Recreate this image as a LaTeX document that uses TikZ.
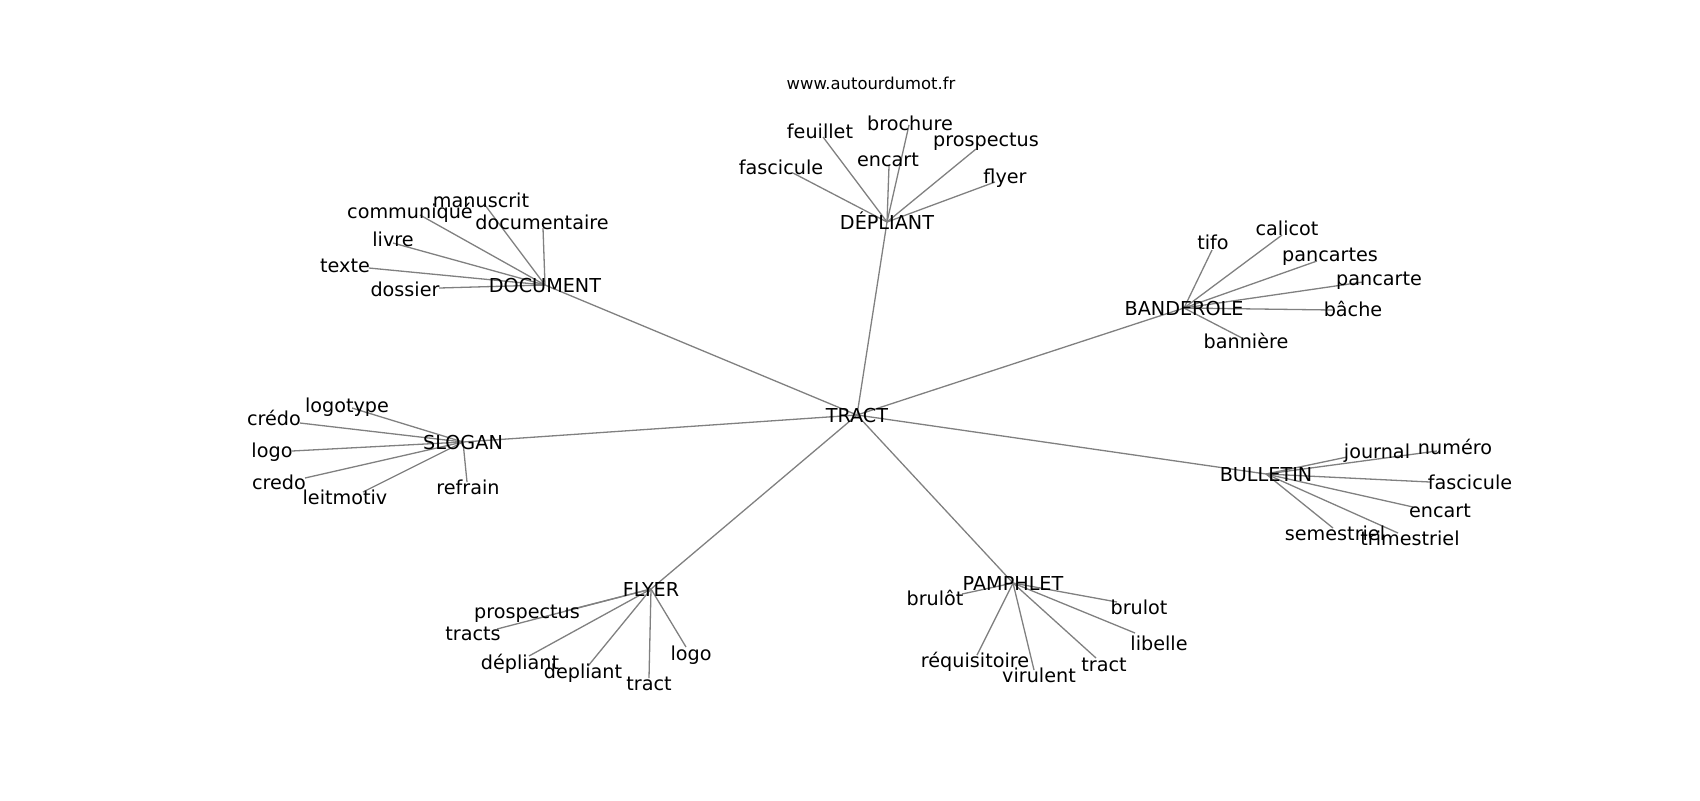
\documentclass[tikz,border=0pt]{standalone}
\usepackage{fontspec}
\setmainfont{DejaVu Sans}
\usetikzlibrary{backgrounds}
\tikzset{
  word/.style={inner sep=0pt,text height=0.73em,text depth=0pt,font=\fontsize{9.6}{11}\selectfont},
  site/.style={inner sep=0pt,text height=0.73em,text depth=0pt,font=\fontsize{8.2}{10}\selectfont},
  edge/.style={draw=gray,line width=0.65pt}
}
\begin{document}
\begin{tikzpicture}[x=0.5pt,y=-0.5pt]
  \useasboundingbox (0,0) rectangle (1700,800);
  \node[site] (site) at (871,82) {www.autourdumot.fr};

  % centre
  \node[word] (tract) at (857,415) {TRACT};

  % DÉPLIANT
  \node[word] (depliant) at (887,222) {DÉPLIANT};
  \coordinate (d-feuillet) at (823,137);   \node[word] (t-d-feuillet) at (820,131) {feuillet};
  \coordinate (d-brochure) at (909,125);   \node[word] (t-d-brochure) at (910,123) {brochure};
  \coordinate (d-encart) at (889,166);     \node[word] (t-d-encart) at (888,159) {encart};
  \coordinate (d-prospectus) at (976,149); \node[word] (t-d-prospectus) at (986,139) {prospectus};
  \coordinate (d-fascicule) at (793,173);  \node[word] (t-d-fascicule) at (781,167) {fascicule};
  \coordinate (d-flyer) at (995,182);      \node[word] (t-d-flyer) at (1005,176) {flyer};

  % DOCUMENT
  \node[word] (document) at (545,285) {DOCUMENT};
  \coordinate (o-manuscrit) at (485,205);    \node[word] (t-o-manuscrit) at (481,200) {manuscrit};
  \coordinate (o-communique) at (420,215);   \node[word] (t-o-communique) at (410,211) {communiqué};
  \coordinate (o-documentaire) at (543,228); \node[word] (t-o-documentaire) at (542,222) {documentaire};
  \coordinate (o-livre) at (393,243);        \node[word] (t-o-livre) at (393,239) {livre};
  \coordinate (o-texte) at (369,268);        \node[word] (t-o-texte) at (345,265) {texte};
  \coordinate (o-dossier) at (439,288);      \node[word] (t-o-dossier) at (405,289) {dossier};

  % BANDEROLE
  \node[word] (banderole) at (1184,308) {BANDEROLE};
  \coordinate (b-tifo) at (1212,250);      \node[word] (t-b-tifo) at (1213,242) {tifo};
  \coordinate (b-calicot) at (1282,235);   \node[word] (t-b-calicot) at (1287,228) {calicot};
  \coordinate (b-pancartes) at (1317,261); \node[word] (t-b-pancartes) at (1330,254) {pancartes};
  \coordinate (b-pancarte) at (1363,282);  \node[word] (t-b-pancarte) at (1379,278) {pancarte};
  \coordinate (b-bache) at (1333,310);     \node[word] (t-b-bache) at (1353,309) {bâche};
  \coordinate (b-banniere) at (1242,338);  \node[word] (t-b-banniere) at (1246,341) {bannière};

  % SLOGAN
  \node[word] (slogan) at (463,442) {SLOGAN};
  \coordinate (s-logotype) at (352,408);  \node[word] (t-s-logotype) at (347,405) {logotype};
  \coordinate (s-credo1) at (300,423);    \node[word] (t-s-credo1) at (274,418) {crédo};
  \coordinate (s-logo) at (292,451);      \node[word] (t-s-logo) at (272,450) {logo};
  \coordinate (s-credo2) at (305,478);    \node[word] (t-s-credo2) at (279,482) {credo};
  \coordinate (s-leitmotiv) at (363,492); \node[word] (t-s-leitmotiv) at (345,497) {leitmotiv};
  \coordinate (s-refrain) at (467,482);   \node[word] (t-s-refrain) at (468,487) {refrain};

  % BULLETIN
  \node[word] (bulletin) at (1266,474) {BULLETIN};
  \coordinate (u-journal) at (1347,457);     \node[word] (t-u-journal) at (1377,451) {journal};
  \coordinate (u-numero) at (1437,451);      \node[word] (t-u-numero) at (1455,447) {numéro};
  \coordinate (u-fascicule) at (1430,482);   \node[word] (t-u-fascicule) at (1470,482) {fascicule};
  \coordinate (u-encart) at (1413,507);      \node[word] (t-u-encart) at (1440,510) {encart};
  \coordinate (u-semestriel) at (1333,528);  \node[word] (t-u-semestriel) at (1335,533) {semestriel};
  \coordinate (u-trimestriel) at (1398,533); \node[word] (t-u-trimestriel) at (1410,538) {trimestriel};

  % FLYER
  \node[word] (flyer) at (651,589) {FLYER};
  \coordinate (f-prospectus) at (565,611); \node[word] (t-f-prospectus) at (527,611) {prospectus};
  \coordinate (f-tracts) at (497,629);     \node[word] (t-f-tracts) at (473,633) {tracts};
  \coordinate (f-depliant1) at (529,656);  \node[word] (t-f-depliant1) at (520,662) {dépliant};
  \coordinate (f-depliant2) at (588,666);  \node[word] (t-f-depliant2) at (583,671) {depliant};
  \coordinate (f-tract) at (649,678);      \node[word] (t-f-tract) at (649,683) {tract};
  \coordinate (f-logo) at (686,647);       \node[word] (t-f-logo) at (691,653) {logo};

  % PAMPHLET
  \node[word] (pamphlet) at (1013,583) {PAMPHLET};
  \coordinate (p-brulot1) at (962,594);      \node[word] (t-p-brulot1) at (935,598) {brulôt};
  \coordinate (p-brulot2) at (1117,602);     \node[word] (t-p-brulot2) at (1139,607) {brulot};
  \coordinate (p-libelle) at (1135,633);     \node[word] (t-p-libelle) at (1159,643) {libelle};
  \coordinate (p-tract) at (1096,658);       \node[word] (t-p-tract) at (1104,664) {tract};
  \coordinate (p-virulent) at (1034,670);    \node[word] (t-p-virulent) at (1039,675) {virulent};
  \coordinate (p-requisitoire) at (977,655); \node[word] (t-p-requisitoire) at (975,660) {réquisitoire};

  \begin{scope}[on background layer]
    \foreach \h in {depliant,document,banderole,slogan,bulletin,flyer,pamphlet}
      \draw[edge] (tract.center) -- (\h.center);
    \foreach \w in {feuillet,brochure,encart,prospectus,fascicule,flyer}
      \draw[edge] (depliant.center) -- (d-\w);
    \foreach \w in {manuscrit,communique,documentaire,livre,texte,dossier}
      \draw[edge] (document.center) -- (o-\w);
    \foreach \w in {tifo,calicot,pancartes,pancarte,bache,banniere}
      \draw[edge] (banderole.center) -- (b-\w);
    \foreach \w in {logotype,credo1,logo,credo2,leitmotiv,refrain}
      \draw[edge] (slogan.center) -- (s-\w);
    \foreach \w in {journal,numero,fascicule,encart,semestriel,trimestriel}
      \draw[edge] (bulletin.center) -- (u-\w);
    \foreach \w in {prospectus,tracts,depliant1,depliant2,tract,logo}
      \draw[edge] (flyer.center) -- (f-\w);
    \foreach \w in {brulot1,brulot2,libelle,tract,virulent,requisitoire}
      \draw[edge] (pamphlet.center) -- (p-\w);
  \end{scope}
\end{tikzpicture}
\end{document}
